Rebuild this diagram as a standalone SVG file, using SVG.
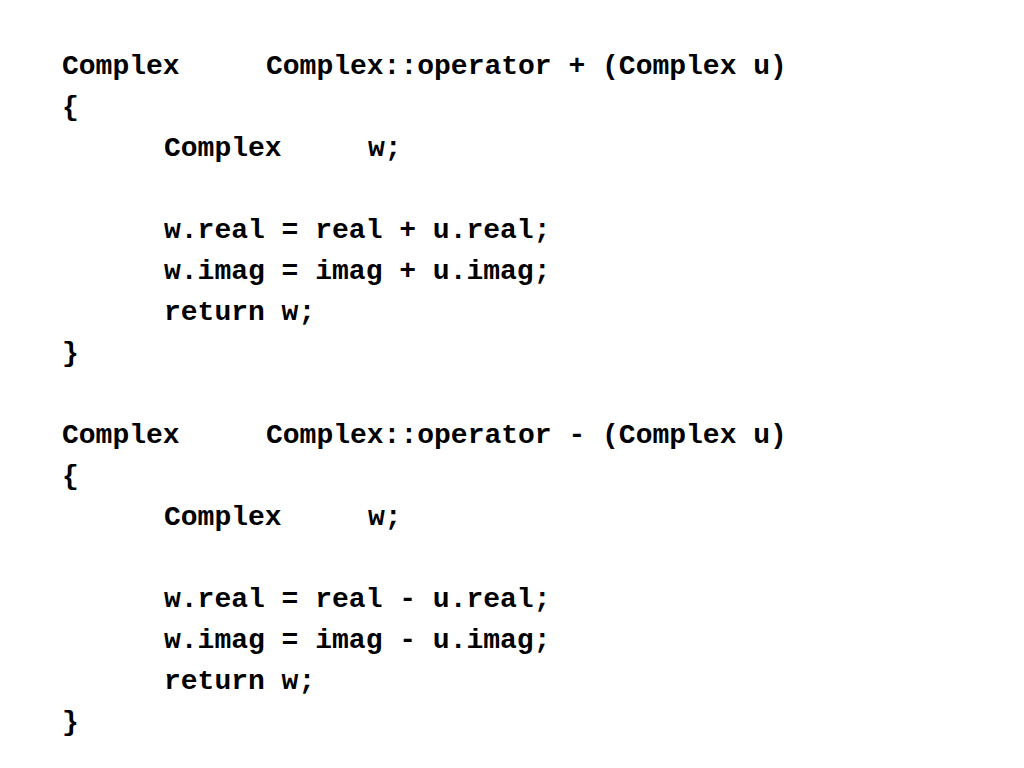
<svg xmlns="http://www.w3.org/2000/svg" width="1024" height="768" viewBox="0 0 1024 768">
<style>text{font-family:"Liberation Mono","Courier New",monospace;font-weight:bold;font-size:28px;fill:#000;white-space:pre}</style>
<rect width="1024" height="768" fill="#fff"/>
<g id="plus">
<text x="62" y="74">Complex</text><text x="266" y="74">Complex::operator + (Complex u)</text>
<text x="62" y="115">{</text>
<text x="164" y="156">Complex</text><text x="368" y="156">w;</text>
<text x="164" y="238">w.real = real + u.real;</text>
<text x="164" y="279">w.imag = imag + u.imag;</text>
<text x="164" y="320">return w;</text>
<text x="62" y="361">}</text>
</g>
<g id="minus">
<text x="62" y="443">Complex</text><text x="266" y="443">Complex::operator - (Complex u)</text>
<text x="62" y="484">{</text>
<text x="164" y="525">Complex</text><text x="368" y="525">w;</text>
<text x="164" y="607">w.real = real - u.real;</text>
<text x="164" y="648">w.imag = imag - u.imag;</text>
<text x="164" y="689">return w;</text>
<text x="62" y="730">}</text>
</g>
<g id="connectors"/>
</svg>
